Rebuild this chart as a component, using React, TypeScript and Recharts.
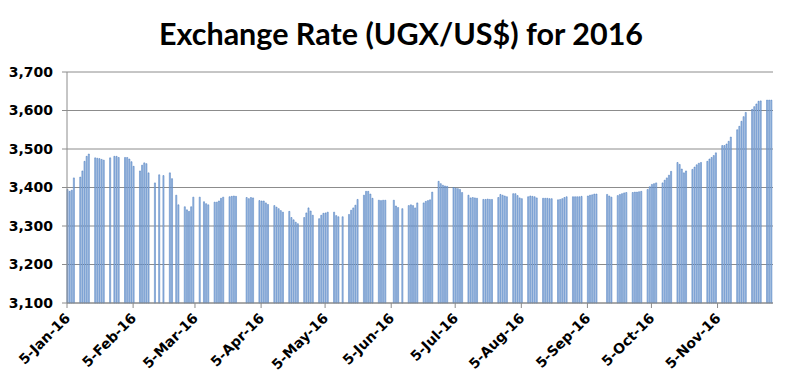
import React from 'react';
import { BarChart, Bar, XAxis, YAxis, CartesianGrid } from 'recharts';

// daily UGX/US$ rate, one entry per weekday of each month (null = no quote)
const jan = [3395, 3390, 3393, 3425, 3427, 3443, 3468, 3481, 3487, 3477, 3476, 3475, 3473, 3471, 3477, null, 3481, 3481, 3478];
const feb = [3478, 3478, 3474, 3467, 3455, 3443, 3458, 3464, 3462, 3438, 3412, null, 3433, null, 3431, 3438, 3423, null, 3380, 3355, 3350];
const mar = [3342, 3338, 3350, 3375, 3375, null, 3363, 3358, 3355, 3362, 3362, 3365, 3372, 3375, 3376, 3377, 3378, 3377, null, null, 3374, 3371, 3374];
const apr = [3373, 3366, 3365, 3365, 3360, 3356, 3353, 3349, 3345, 3340, 3336, 3338, 3322, 3316, 3310, 3306, 3322, 3334, 3347, 3339, 3328];
const may = [3319, 3328, 3333, 3334, 3336, 3336, 3327, 3324, null, 3324, 3330, 3341, 3347, 3354, 3369, 3380, 3390, 3390, 3383, 3372, 3367, 3366];
const jun = [3367, 3367, null, 3367, 3352, 3348, null, 3345, 3353, 3355, 3353, 3347, 3360, 3360, 3364, 3366, 3368, 3388, 3416, 3410, 3406, 3404];
const jul = [3403, 3400, 3398, 3397, 3395, 3387, 3380, 3373, 3374, 3373, 3372, 3369, 3369, 3370, 3369, 3369, 3374, 3382, 3380, 3378, 3376];
const aug = [3384, 3384, 3379, 3373, 3371, 3376, 3378, 3377, 3376, 3373, 3372, 3372, 3372, 3371, 3371, 3368, 3369, 3371, 3374, 3376, 3376, 3376, 3376];
const sep = [3376, 3377, 3378, 3380, 3381, 3383, 3383, null, null, 3382, 3378, 3375, 3379, 3382, 3384, 3386, 3387, 3387, 3388, 3388, 3389, 3390];
const oct = [3395, 3402, 3408, 3410, 3412, 3412, 3419, 3425, 3432, 3442, 3465, 3460, 3448, 3438, 3443, 3447, 3453, 3459, 3463, 3465, 3468];
const nov = [3474, 3478, 3483, 3490, 3509, 3509, 3513, 3520, 3531, 3550, 3559, 3572, 3584, 3595, 3603, 3610, 3617, 3624, 3625, 3627, 3627, 3627];

const months = [jan, feb, mar, apr, may, jun, jul, aug, sep, oct, nov];
const monthNames = ['Jan', 'Feb', 'Mar', 'Apr', 'May', 'Jun', 'Jul', 'Aug', 'Sep', 'Oct', 'Nov'];
const yTicks = [3100, 3200, 3300, 3400, 3500, 3600, 3700];

const DAY = 86400000;
const START = Date.UTC(2016, 0, 5);
const dayIndex = (m: number, d: number) => Math.round((Date.UTC(2016, m, d) - START) / DAY);
const END_DAY = dayIndex(11, 1);

// walk the calendar, give each weekday its value
const data: { day: number; rate: number }[] = [];
months.forEach((vals, m) => {
  let k = 0;
  const last = new Date(Date.UTC(2016, m + 1, 0)).getUTCDate();
  for (let d = m === 0 ? 5 : 1; d <= last; d++) {
    const wd = new Date(Date.UTC(2016, m, d)).getUTCDay();
    if (wd === 0 || wd === 6) continue;
    const v = vals[k++];
    if (v != null) data.push({ day: dayIndex(m, d), rate: v });
  }
});

const xTicks = monthNames.map((_, m) => dayIndex(m, 5));
const xLabel = (v: number) => {
  const i = xTicks.indexOf(v);
  return i >= 0 ? `5-${monthNames[i]}-16` : '';
};

export default function App() {
  return (
    <div style={{ position: 'absolute', left: 0, top: 0, width: 800, height: 389, background: '#fff' }}>
      <svg width={800} height={60} style={{ position: 'absolute', left: 0, top: 0 }}>
        <text x={401} y={45} textAnchor="middle" fontFamily="Lato" fontWeight="bold" fontSize={30.5} fill="#000">
          Exchange Rate (UGX/US$) for 2016
        </text>
      </svg>
      <BarChart
        width={800}
        height={389}
        data={data}
        margin={{ top: 72, right: 27, bottom: 0, left: 0 }}
        style={{ position: 'absolute', left: 0, top: 0 }}
      >
        <CartesianGrid vertical={false} stroke="#8c8c8c" />
        <XAxis
          type="number"
          dataKey="day"
          domain={[0, END_DAY]}
          ticks={xTicks}
          interval={0}
          height={86}
          tickSize={5}
          tickMargin={4}
          axisLine={{ stroke: '#8c8c8c' }}
          tickLine={{ stroke: '#8c8c8c' }}
          tickFormatter={xLabel}
          angle={-45}
          textAnchor="end"
          tick={{ fontFamily: 'DejaVu Sans', fontWeight: 'bold', fontSize: 14, fill: '#000', dx: -3 }}
        />
        <YAxis
          type="number"
          domain={[3100, 3700]}
          ticks={yTicks}
          interval={0}
          width={67}
          tickSize={5}
          tickMargin={9}
          axisLine={{ stroke: '#8c8c8c' }}
          tickLine={{ stroke: '#8c8c8c' }}
          tickFormatter={(v: number) => v.toLocaleString('en-US')}
          tick={{ fontFamily: 'DejaVu Sans', fontWeight: 'bold', fontSize: 14, fill: '#000' }}
        />
        <Bar dataKey="rate" fill="#a9c4e8" stroke="#3f72b8" strokeWidth={0.5} barSize={1.1} isAnimationActive={false} />
      </BarChart>
    </div>
  );
}
